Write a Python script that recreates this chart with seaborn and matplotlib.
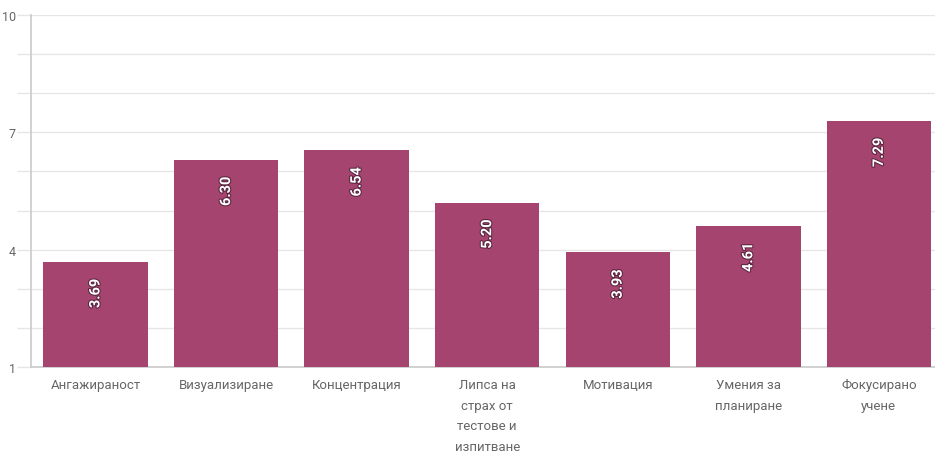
import matplotlib
matplotlib.use("Agg")
import matplotlib.pyplot as plt
import matplotlib.patheffects as pe
import seaborn as sns
import pandas as pd

categories = ["Ангажираност", "Визуализиране", "Концентрация",
              "Липса на\nстрах от\nтестове и\nизпитване", "Мотивация",
              "Умения за\nпланиране", "Фокусирано\nучене"]
values = [3.69, 6.30, 6.54, 5.20, 3.93, 4.61, 7.29]
y_ticks = [1, 4, 7, 10]

sns.set_theme(style="white")
plt.rcParams['font.family'] = ['Roboto', 'DejaVu Sans']

df = pd.DataFrame({"cat": categories, "val": values})

W, H = 935, 456
fig = plt.figure(figsize=(W / 100, H / 100), dpi=100)
ax = fig.add_axes([31 / W, (H - 368) / H, (W - 31) / W, (368 - 16) / H])

sns.barplot(data=df, x="cat", y="val", color="#a5446f", saturation=1,
            width=0.8, ax=ax, zorder=3)
for p in ax.patches:
    p.set_edgecolor("none")

ax.set_ylim(1, 10)
ax.set_xlim(-0.494, 6.43)
ax.set_yticks(y_ticks)
ax.set_yticks([2, 3, 5, 6, 8, 9], minor=True)
ax.grid(True, which="both", axis="y", color="#e6e6e6", linewidth=1, zorder=0)
ax.tick_params(axis="y", which="both", length=10, color="#e6e6e6", width=1,
               labelsize=9, labelcolor="#666666", pad=1, left=True)
ax.tick_params(axis="x", length=0, labelsize=9.5, labelcolor="#666666", pad=8)
for lbl in ax.get_xticklabels():
    lbl.set_linespacing(1.75)
    lbl.set_va("top")
ax.set_xlabel("")
ax.set_ylabel("")
for s in ["top", "right"]:
    ax.spines[s].set_visible(False)
ax.spines["left"].set_color("#cccccc")
ax.spines["bottom"].set_color("#cccccc")

for i, v in enumerate(values):
    ax.annotate(f"{v:.2f}", xy=(i, v), xytext=(0, -12), textcoords="offset points",
                ha="center", va="top", rotation=90, color="white",
                fontsize=10.5, fontweight="bold", zorder=5,
                path_effects=[pe.withStroke(linewidth=1.5, foreground="#5a2440")])

fig.savefig("out.png", dpi=100)
